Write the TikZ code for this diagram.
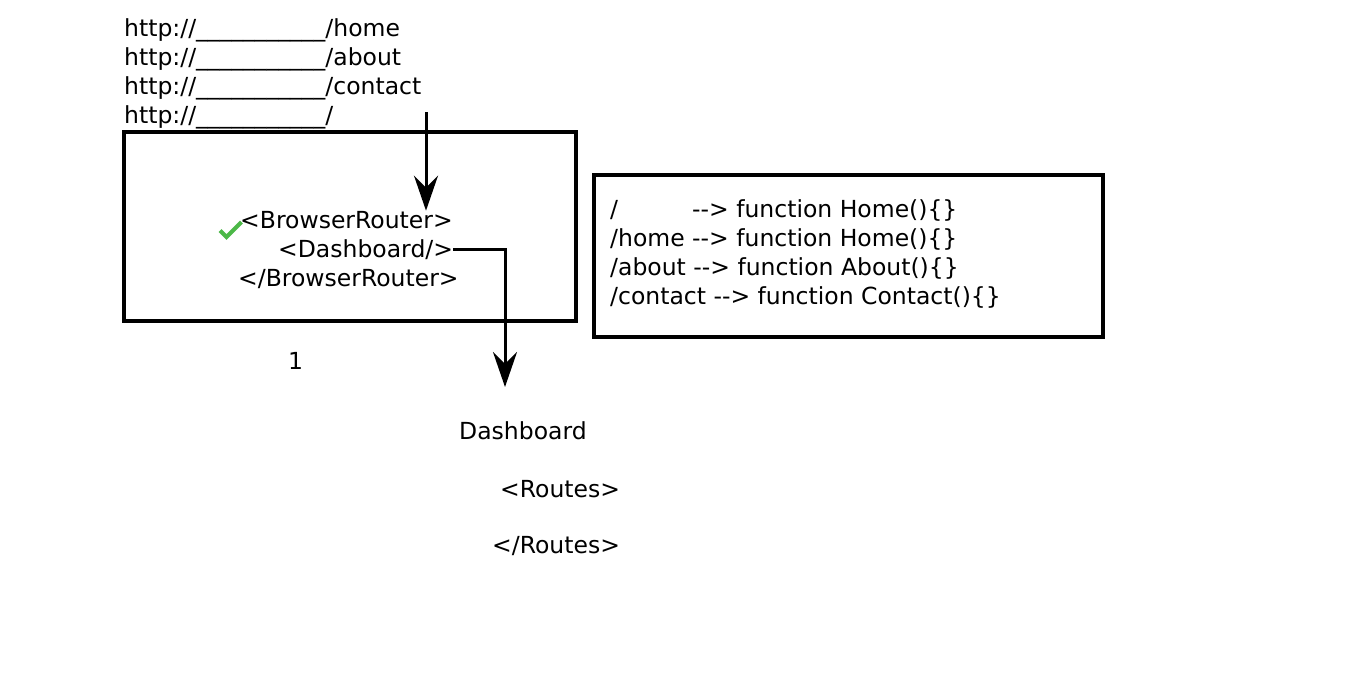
\documentclass[tikz,border=0pt]{standalone}
\usepackage{fontspec}
\setmainfont{DejaVu Sans}
\usepackage{xcolor}
\usepackage{tikz}
\usetikzlibrary{arrows.meta, positioning}
\definecolor{tickgreen}{HTML}{4CB848}
\newcommand{\maps}{-\kern0pt-\kern0pt>}

\begin{document}
\begin{tikzpicture}[x=1pt, y=-1pt, font=\fontsize{23.5}{29}\selectfont,
    txt/.style={anchor=base west, inner sep=0pt},
    frame/.style={draw, line width=4pt, inner sep=0pt},
    link/.style={line width=3pt, -{Stealth[length=35pt, width=24pt, inset=12pt]}}]
            \useasboundingbox (0,0) rectangle (1366,697);
            % urls
            \node[txt] (u1) at (124,36) {http://\_\_\_\_\_\_\_\_\_\_\_/home};
            \node[txt] (u2) at (124,65) {http://\_\_\_\_\_\_\_\_\_\_\_/about};
            \node[txt] (u3) at (124,94) {http://\_\_\_\_\_\_\_\_\_\_\_/contact};
            \node[txt] (u4) at (124,123) {http://\_\_\_\_\_\_\_\_\_\_\_/};
            \coordinate (src) at (426,112);

            % router box
            \node[frame, minimum width=452pt, minimum height=189pt] (router) at (350,226.5) {};
            \node[txt] (br1) at (240,228) {<BrowserRouter>};
            \node[txt] (dash) at (278,257) {<Dashboard/>};
            \node[txt] (br2) at (238,286) {</BrowserRouter>};
            \draw[tickgreen, line width=4pt] (220,230.5) -- (226.5,237) -- (241.5,222);
            \node[txt] (num) at (288,369) {1};

            % route table
            \node[frame, minimum width=509pt, minimum height=162pt] (table) at (848.5,256) {};
            \node[txt] (r1) at (610,217) {\makebox[82pt][l]{/}\maps{} function Home()\{\}};
            \node[txt] (r2) at (610,246) {/home \maps{} function Home()\{\}};
            \node[txt] (r3) at (610,275) {/about \maps{} function About()\{\}};
            \node[txt] (r4) at (610,304) {/contact \maps{} function Contact()\{\}};

            % dashboard
            \node[txt] (dtitle) at (459,439) {Dashboard};
            \node[txt] (rt1) at (500,497) {<Routes>};
            \node[txt] (rt2) at (492,553) {</Routes>};
            \coordinate (dtip) at (505,387);

            \draw[link] (src) -- (src |- br1.north);
            \draw[link] (dash.east) -| (dtip);
        \end{tikzpicture}
\end{document}
